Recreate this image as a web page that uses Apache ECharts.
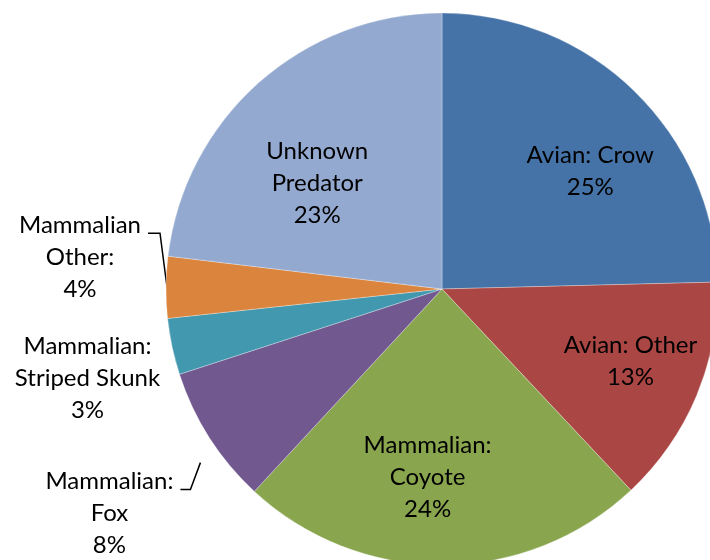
<!DOCTYPE html>
<html><head><meta charset="utf-8">
<script src="https://cdn.jsdelivr.net/npm/echarts@6/dist/echarts.min.js"></script>
<style>html,body{margin:0;padding:0;background:#fff}#c{width:710px;height:560px}</style>
</head><body><div id="c"></div>
<script>
const categories = ['Avian: Crow','Avian: Other','Mammalian: Coyote','Mammalian: Fox','Mammalian: Striped Skunk','Mammalian: Other','Unknown Predator'];
const labelTexts = ['Avian: Crow','Avian: Other','Mammalian:\nCoyote','Mammalian:\nFox','Mammalian:\nStriped Skunk','Mammalian\nOther:','Unknown\nPredator'];
const values = [24.6, 13.4, 23.9, 8.1, 3.3, 3.6, 23.1];
const colors = ['#4673A7','#AA4643','#89A54E','#71588F','#4198AF','#DB843D','#93A9CF'];
const outside = [false,false,false,true,true,true,false];

const FONT = 'Lato';
const CX = 442, CY = 289, R = 276;
const total = values.reduce((a,b)=>a+b,0);
function pctText(i){ return Math.round(values[i]/total*100) + '%'; }
function richLabel(i){
  return labelTexts[i].split('\n').concat([pctText(i)]).map(s=>'{c|'+s+'}').join('\n');
}
const rich = { c: { fontFamily: FONT, fontSize: 24, lineHeight: 32, color: '#000', align: 'center' } };

// mid-angle edge point of slice i (clockwise from 12 o'clock)
function edgePoint(i){
  let cum = 0;
  for (let k = 0; k < i; k++) cum += values[k];
  const a = (cum + values[i]/2) / total * Math.PI * 2;
  return [CX + R*Math.sin(a), CY - R*Math.cos(a)];
}

const insideOffsets = {0:[17,17],1:[15,0],2:[-15,0],6:[0,35]};
// leader line bends relative to the slice edge point; gap = space between line end and text
const outsideCfg = {
  3: { pts: [[-9,25],[-19,52],[-29,52]], gap: 7, lift: 8 },
  4: { pts: null, gap: 12, lift: 0 },
  5: { pts: [[1,0],[-6,-54],[-18,-54]], gap: 7, lift: 8 }
};

const mainData = values.map((v,i)=>{
  const d = { name: categories[i], value: v, itemStyle: { color: colors[i] } };
  if (outside[i]) {
    d.label = { show: true, position: 'outside', formatter: richLabel(i), rich: rich };
    d.labelLine = { show: !!outsideCfg[i].pts, length: 10, length2: 10, smooth: false, lineStyle: { color: '#000', width: 1.5 } };
  } else {
    d.label = { show: false };
    d.labelLine = { show: false };
  }
  return d;
});

const overlayData = values.map((v,i)=>{
  const d = { name: categories[i], value: v, itemStyle: { color: 'rgba(0,0,0,0)' } };
  if (!outside[i]) {
    d.label = { show: true, position: 'inside', formatter: richLabel(i), rich: rich, offset: insideOffsets[i] };
  } else {
    d.label = { show: false };
  }
  return d;
});

const chart = echarts.init(document.getElementById('c'));
chart.setOption({
  animation: false,
  backgroundColor: '#fff',
  series: [
    {
      type: 'pie',
      center: [CX, CY],
      radius: [0, R],
      startAngle: 90,
      clockwise: true,
      avoidLabelOverlap: false,
      itemStyle: { borderColor: 'rgba(255,255,255,0.6)', borderWidth: 0.5 },
      label: { fontFamily: FONT },
      labelLayout: function(p){
        const c = outsideCfg[p.dataIndex];
        if (!c) return {};
        const e = edgePoint(p.dataIndex);
        let end, res = {};
        if (c.pts) {
          const pts = c.pts.map(o => [e[0] + o[0], e[1] + o[1]]);
          res.labelLinePoints = pts;
          end = pts[pts.length - 1];
        } else {
          end = e;
        }
        res.x = end[0] - c.gap;
        res.y = end[1] - c.lift - 16;
        res.align = 'right';
        res.verticalAlign = 'top';
        return res;
      },
      data: mainData
    },
    {
      type: 'pie',
      center: [CX, CY],
      radius: [94, R],
      startAngle: 90,
      clockwise: true,
      silent: true,
      avoidLabelOverlap: false,
      label: { fontFamily: FONT },
      labelLine: { show: false },
      data: overlayData
    }
  ]
});
</script></body></html>
